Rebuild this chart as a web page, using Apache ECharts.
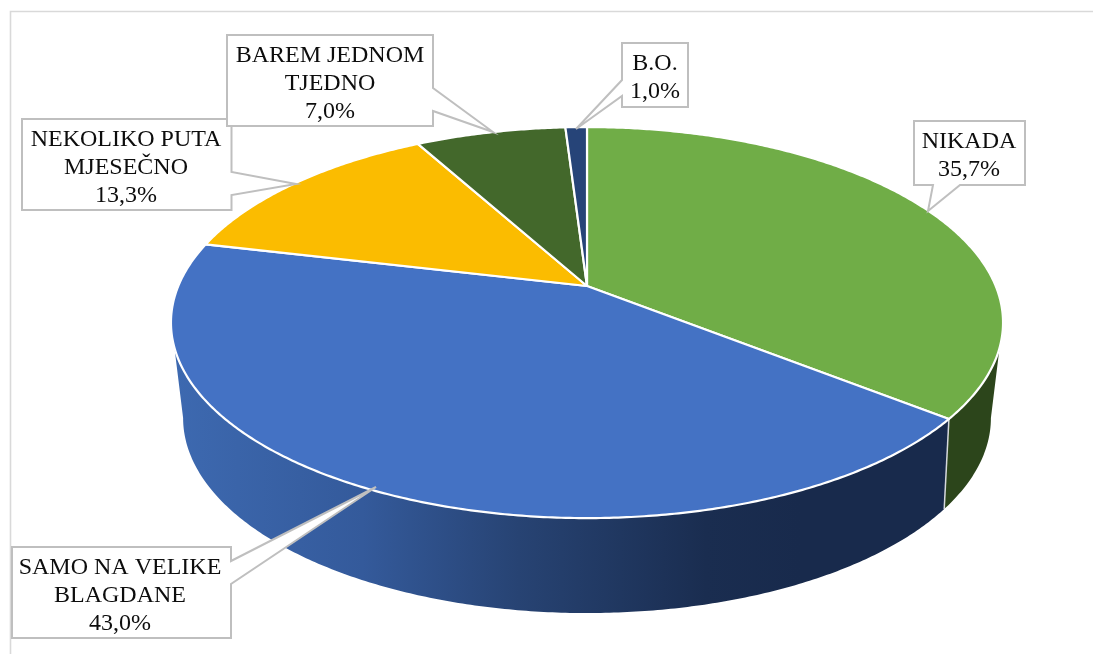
<!DOCTYPE html>
<html>
<head>
<meta charset="utf-8">
<style>html,body{margin:0;padding:0;background:#fff}#c{width:1093px;height:654px}</style>
<script src="https://cdn.jsdelivr.net/npm/echarts@6/dist/echarts.min.js"></script>
</head>
<body>
<div id="c"></div>
<script>
// Data
const categories = ['NIKADA', 'SAMO NA VELIKE BLAGDANE', 'NEKOLIKO PUTA MJESEČNO', 'BAREM JEDNOM TJEDNO', 'B.O.'];
const labelLines = [['NIKADA'], ['SAMO NA VELIKE', 'BLAGDANE'], ['NEKOLIKO PUTA', 'MJESEČNO'], ['BAREM JEDNOM', 'TJEDNO'], ['B.O.']];
const percentLabels = ['35,7%', '43,0%', '13,3%', '7,0%', '1,0%'];
const shares = [35.7, 43.0, 13.3, 7.0, 1.0];

// Styles
const topColors = ['#70AD47', '#4472C4', '#FBBC00', '#43682B', '#264478'];
const GREEN_WALL = '#2C451B';
const FONT = '24px "Liberation Serif"';
const BORDER = '#BFBFBF';

// Perspective model of the pie disk
const topDisk = { cx: 587, cy: 286, a: 408.7, b: 188.7, k: 0.187 };
const lowDisk = { cx: 587, cy: 375.1, a: 394, b: 185.6, k: 0.22 };
const project = (d, deg) => {
  const t = deg * Math.PI / 180, u = Math.sin(t), v = Math.cos(t), w = 1 + d.k * v;
  return [d.cx + d.a * u / w, d.cy - d.b * v / w];
};
const arc = (d, from, to) => {
  const n = Math.max(2, Math.ceil(Math.abs(to - from) * 2)), pts = [];
  for (let i = 0; i <= n; i++) pts.push(project(d, from + (to - from) * i / n));
  return pts;
};
const total = shares.reduce((a, b) => a + b, 0);
const angles = [0];
shares.forEach((s, i) => angles.push(angles[i] + s / total * 360));

// Wall silhouette limits (degrees clockwise from the top of the disk)
const WALL_TOP_R = 108, WALL_LOW_R = 102.7, WALL_TOP_L = 252, WALL_LOW_L = 257.3;

// Callout boxes: rect [x, y, w, h], wedge [base1, tip, base2], text centre x, first line y
const callouts = [
  { box: [914, 121, 111, 64], wedge: [[960, 185], [928, 211], [933, 185]], side: 'bottom', tx: 969, ty: 141.5 },
  { box: [12, 547, 219, 91], wedge: [[231, 561], [376, 487], [231, 584]], side: 'right', tx: 120, ty: 567.5 },
  { box: [22, 119, 209.5, 91], wedge: [[231.5, 172], [296, 184], [231.5, 195]], side: 'right', tx: 126, ty: 139.5 },
  { box: [227, 35, 206, 91], wedge: [[433, 88], [493, 132], [433, 111]], side: 'right', tx: 330, ty: 55.5 },
  { box: [622, 43, 66, 64], wedge: [[622, 96], [576, 129], [622, 80]], side: 'left', tx: 655, ty: 63.5 }
];
const drawOrder = [0, 1, 2, 3, 4];

function calloutPoints(c) {
  const [x, y, w, h] = c.box, r = x + w, b = y + h;
  if (c.side === 'right') return [[x, y], [r, y], c.wedge[0], c.wedge[1], c.wedge[2], [r, b], [x, b]];
  if (c.side === 'left') return [[x, y], [r, y], [r, b], [x, b], c.wedge[0], c.wedge[1], c.wedge[2]];
  return [[x, y], [r, y], [r, b], c.wedge[0], c.wedge[1], c.wedge[2], [x, b]];
}

const blueWallFill = {
  type: 'linear', global: true, x: 175, y: 0, x2: 800, y2: 0,
  colorStops: [
    { offset: 0, color: '#3D69B0' },
    { offset: 0.3, color: '#345A9B' },
    { offset: 0.55, color: '#274373' },
    { offset: 0.85, color: '#1A2D50' },
    { offset: 1, color: '#182A4C' }
  ]
};

const rows = shares.map((s, i) => [i, s]);

const option = {
  animation: false,
  backgroundColor: '#fff',
  graphic: [
    { type: 'polyline', silent: true, z: 0, shape: { points: [[10.5, 654], [10.5, 11.5], [1093, 11.5]] }, style: { stroke: '#D9D9D9', lineWidth: 1.6, fill: null } }
  ],
  series: [
    { // side walls
      type: 'custom', coordinateSystem: 'none', z: 2, data: rows, silent: true,
      renderItem(params, api) {
        const i = api.value(0);
        const a0 = angles[i], a1 = angles[i + 1];
        if (i === 0) {
          const pts = arc(topDisk, WALL_TOP_R, a1).concat(arc(lowDisk, a1, WALL_LOW_R));
          return { type: 'polygon', shape: { points: pts }, style: { fill: GREEN_WALL } };
        }
        if (i === 1) {
          const pts = arc(topDisk, a0, WALL_TOP_L).concat(arc(lowDisk, WALL_LOW_L, a0));
          return { type: 'group', children: [
            { type: 'polygon', shape: { points: pts }, style: { fill: blueWallFill } },
            { type: 'line', shape: { x1: project(topDisk, a0)[0], y1: project(topDisk, a0)[1], x2: project(lowDisk, a0)[0], y2: project(lowDisk, a0)[1] }, style: { stroke: '#D5D8DC', lineWidth: 1.5 } }
          ] };
        }
        return { type: 'group', children: [] };
      }
    },
    { // top slices
      type: 'custom', coordinateSystem: 'none', z: 3, data: rows, silent: true,
      renderItem(params, api) {
        const i = api.value(0);
        const pts = [[topDisk.cx, topDisk.cy]].concat(arc(topDisk, angles[i], angles[i + 1]));
        return { type: 'polygon', shape: { points: pts }, style: { fill: topColors[i], stroke: '#fff', lineWidth: 2.2, lineJoin: 'round' } };
      }
    },
    { // data label callouts
      type: 'custom', coordinateSystem: 'none', z: 4, data: drawOrder.map(i => [i, shares[i]]), silent: true,
      renderItem(params, api) {
        const i = api.value(0), c = callouts[i];
        const lines = labelLines[i].concat([percentLabels[i]]);
        const children = [
          { type: 'polygon', shape: { points: calloutPoints(c) }, style: { fill: '#fff', stroke: BORDER, lineWidth: 2 } }
        ];
        lines.forEach((t, k) => children.push({
          type: 'text', style: { text: t, x: c.tx, y: c.ty + k * 28, fill: '#0D0D0D', font: FONT, align: 'center', verticalAlign: 'middle' }
        }));
        return { type: 'group', children };
      }
    }
  ]
};
const chart = echarts.init(document.getElementById('c'), null, { renderer: 'canvas', width: 1093, height: 654 });
chart.setOption(option);
</script>
</body>
</html>
